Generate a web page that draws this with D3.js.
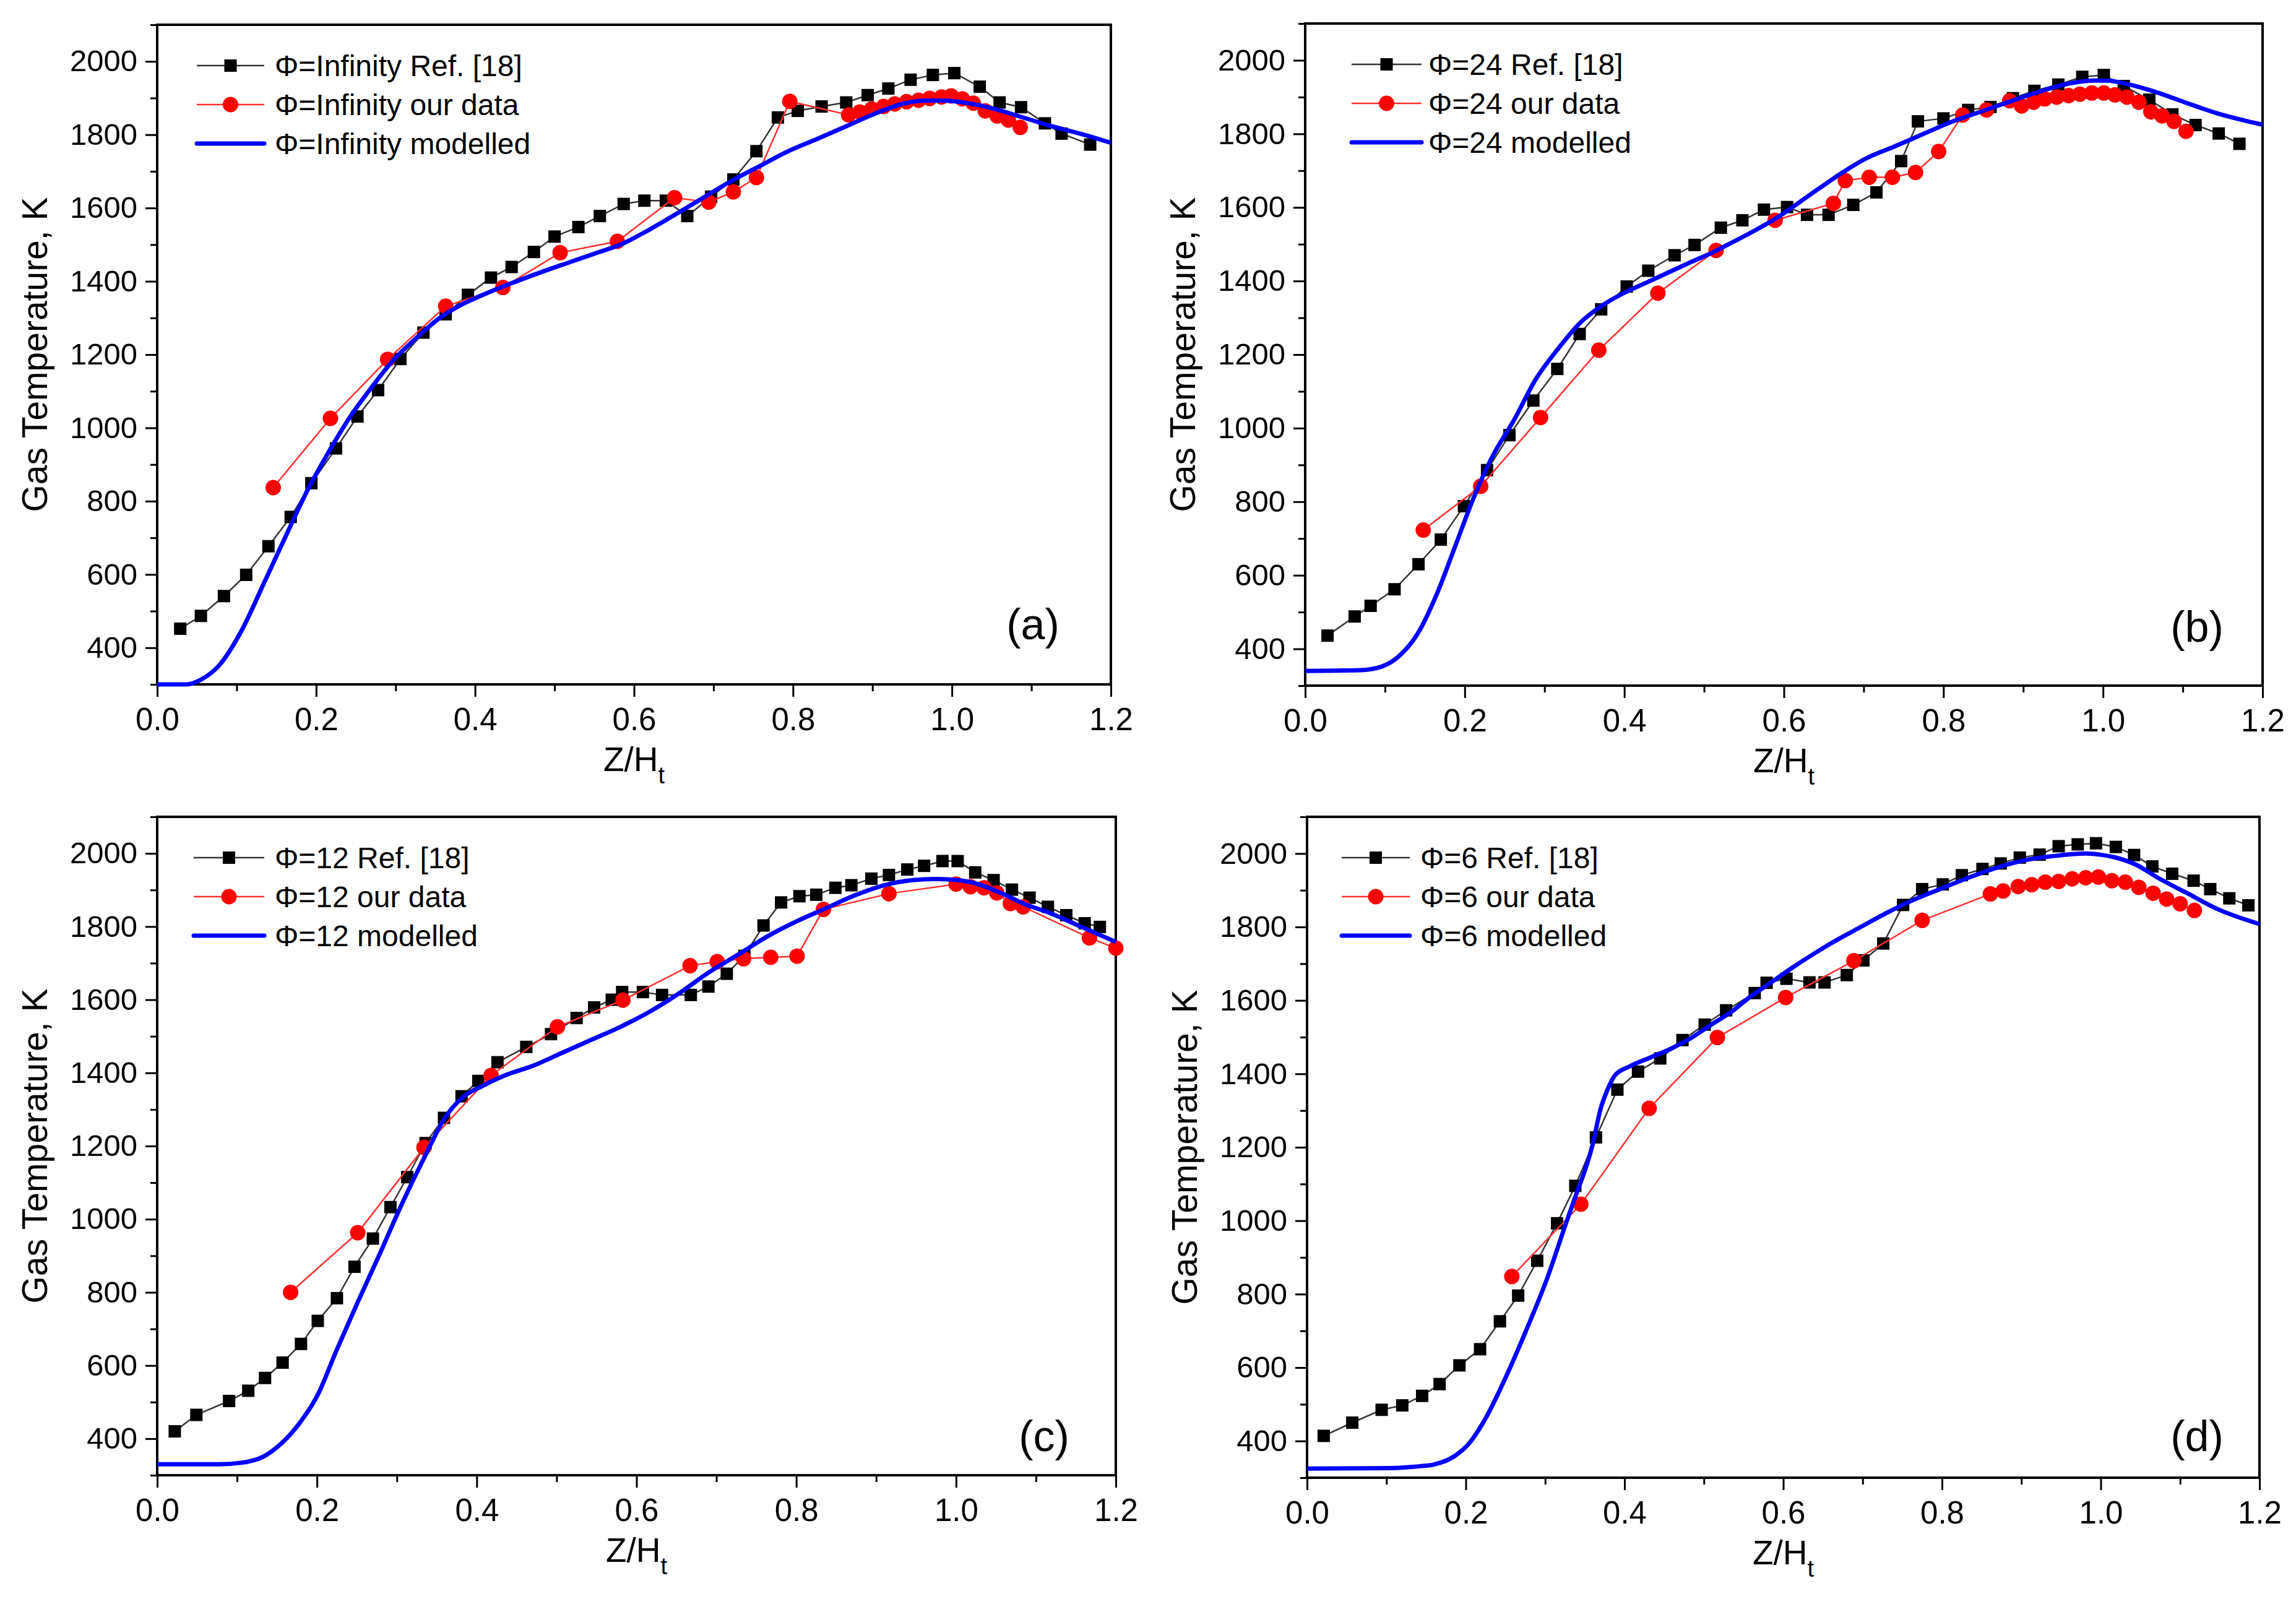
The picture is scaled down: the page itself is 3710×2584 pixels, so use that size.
<!DOCTYPE html>
<html><head><meta charset="utf-8">
<script src="https://cdn.jsdelivr.net/npm/d3@7"></script>
<style>
body{margin:0;background:#fff}
svg{display:block;background:#fff}
text{font-family:"Liberation Sans",Arial,sans-serif;fill:#000}
</style>
</head><body>
<svg id="chart" width="3710" height="2584"></svg>
<script>
// ---------- shared axis data ----------
const xTicks = [0, 0.2, 0.4, 0.6, 0.8, 1.0, 1.2];
const xMinor = [0.1, 0.3, 0.5, 0.7, 0.9, 1.1];
const yTicks = [400, 600, 800, 1000, 1200, 1400, 1600, 1800, 2000];
const yMinor = [300, 500, 700, 900, 1100, 1300, 1500, 1700, 1900, 2100];
const xDomain = [0, 1.2];
const yDomain = [300, 2100];
const yTitle = "Gas Temperature, K";

// ---------- panel (a): Φ = Infinity ----------
const aRefX = [0.029,0.055,0.084,0.112,0.140,0.168,0.194,0.225,0.252,0.278,0.306,0.335,0.363,0.391,0.420,0.446,0.474,0.500,0.530,0.557,0.587,0.613,0.640,0.667,0.697,0.725,0.754,0.781,0.806,0.836,0.867,0.894,0.920,0.948,0.976,1.003,1.035,1.060,1.087,1.117,1.138,1.174];
const aRefY = [452,487,541,599,677,757,849,944,1031,1103,1188,1260,1310,1363,1410,1439,1480,1522,1548,1578,1611,1620,1620,1578,1631,1678,1755,1847,1865,1877,1888,1908,1926,1950,1963,1968,1931,1888,1875,1831,1803,1773];
const aOurX = [0.146,0.218,0.290,0.363,0.435,0.507,0.579,0.651,0.694,0.725,0.754,0.796,0.870,0.884,0.899,0.914,0.928,0.943,0.958,0.972,0.987,0.999,1.013,1.027,1.042,1.057,1.071,1.086];
const aOurY = [837,1026,1187,1332,1383,1478,1509,1628,1616,1644,1683,1891,1854,1862,1870,1877,1884,1890,1894,1899,1903,1906,1898,1886,1865,1851,1840,1820];
const aModX = [0,0.037,0.055,0.078,0.106,0.133,0.161,0.188,0.216,0.243,0.271,0.298,0.326,0.353,0.381,0.409,0.445,0.482,0.519,0.555,0.583,0.611,0.647,0.684,0.721,0.757,0.794,0.831,0.868,0.904,0.941,0.969,0.987,1.014,1.051,1.088,1.124,1.161,1.2];
const aModY = [300,300,313,352,446,570,701,825,935,1031,1114,1187,1245,1296,1334,1362,1394,1424,1452,1479,1500,1531,1576,1624,1672,1713,1755,1789,1824,1858,1886,1893,1893,1888,1872,1848,1824,1803,1778];

// ---------- panel (b): Φ = 24 ----------
const bRefX = [0.028,0.062,0.082,0.112,0.142,0.170,0.199,0.228,0.256,0.286,0.316,0.344,0.371,0.403,0.430,0.463,0.488,0.521,0.548,0.575,0.604,0.629,0.656,0.687,0.716,0.747,0.768,0.800,0.831,0.859,0.887,0.914,0.944,0.974,1.001,1.026,1.058,1.087,1.116,1.145,1.171];
const bRefY = [436,488,517,562,630,697,788,886,981,1075,1161,1256,1323,1385,1428,1470,1498,1545,1565,1594,1601,1580,1580,1607,1641,1726,1834,1842,1865,1873,1897,1917,1934,1955,1960,1930,1893,1853,1824,1801,1773];
const bOurX = [0.148,0.220,0.295,0.368,0.442,0.515,0.589,0.662,0.677,0.707,0.736,0.765,0.794,0.824,0.854,0.883,0.898,0.913,0.927,0.942,0.957,0.971,0.986,1.001,1.015,1.030,1.045,1.060,1.074,1.089,1.104];
const bOurY = [723,842,1029,1212,1367,1483,1565,1611,1673,1682,1682,1695,1752,1851,1865,1890,1876,1886,1895,1900,1904,1908,1911,1911,1906,1900,1886,1860,1849,1834,1807];
const bModX = [0,0.069,0.096,0.119,0.142,0.165,0.188,0.211,0.234,0.262,0.289,0.317,0.344,0.372,0.399,0.427,0.454,0.482,0.510,0.537,0.565,0.592,0.620,0.647,0.675,0.702,0.739,0.776,0.813,0.849,0.886,0.923,0.960,0.987,1.005,1.033,1.070,1.106,1.143,1.180,1.2];
const bModY = [340,342,352,383,445,549,679,810,920,1023,1133,1216,1285,1333,1367,1395,1422,1450,1477,1507,1539,1573,1615,1656,1697,1732,1766,1801,1835,1862,1890,1917,1938,1945,1945,1934,1911,1883,1856,1835,1825];

// ---------- panel (c): Φ = 12 ----------
const cRefX = [0.022,0.049,0.090,0.114,0.135,0.157,0.180,0.201,0.225,0.247,0.270,0.292,0.313,0.336,0.359,0.381,0.402,0.426,0.462,0.493,0.525,0.547,0.569,0.582,0.608,0.632,0.668,0.690,0.713,0.735,0.759,0.781,0.804,0.825,0.849,0.869,0.894,0.916,0.939,0.960,0.983,1.002,1.024,1.047,1.070,1.092,1.115,1.138,1.161,1.180];
const cRefY = [420,465,503,531,566,608,659,722,784,870,947,1033,1115,1208,1277,1336,1378,1429,1471,1506,1550,1579,1600,1621,1621,1613,1613,1636,1671,1720,1803,1866,1883,1887,1906,1913,1931,1941,1956,1966,1979,1979,1948,1927,1901,1879,1854,1831,1809,1799];
const cOurX = [0.167,0.251,0.334,0.418,0.501,0.583,0.667,0.701,0.734,0.768,0.801,0.834,0.916,1.000,1.018,1.035,1.051,1.068,1.084,1.167,1.2];
const cOurY = [800,963,1196,1393,1526,1599,1693,1704,1712,1716,1719,1847,1890,1916,1909,1906,1892,1863,1854,1769,1741];
const cModX = [0,0.078,0.105,0.133,0.155,0.178,0.201,0.224,0.251,0.279,0.306,0.334,0.361,0.384,0.407,0.434,0.471,0.507,0.544,0.580,0.617,0.653,0.690,0.727,0.763,0.800,0.836,0.873,0.910,0.946,0.973,1.001,1.028,1.056,1.083,1.120,1.156,1.2];
const cModY = [330,330,334,351,386,442,520,639,773,907,1040,1167,1280,1336,1364,1392,1420,1455,1491,1526,1568,1617,1674,1723,1772,1814,1849,1885,1913,1927,1930,1927,1916,1892,1864,1835,1800,1758];

// ---------- panel (d): Φ = 6 ----------
const dRefX = [0.021,0.057,0.094,0.120,0.145,0.167,0.192,0.218,0.243,0.266,0.290,0.315,0.338,0.364,0.391,0.417,0.445,0.473,0.501,0.528,0.564,0.579,0.604,0.633,0.652,0.680,0.701,0.726,0.751,0.775,0.801,0.825,0.851,0.874,0.898,0.923,0.947,0.971,0.994,1.019,1.042,1.065,1.090,1.117,1.138,1.162,1.186];
const dRefY = [414,450,485,497,523,555,606,650,726,796,891,993,1095,1227,1357,1406,1442,1492,1534,1573,1620,1648,1659,1649,1649,1669,1709,1755,1860,1903,1916,1941,1958,1973,1989,1997,2020,2025,2028,2018,1996,1965,1945,1926,1903,1878,1859];
const dOurX = [0.258,0.345,0.431,0.517,0.603,0.689,0.775,0.861,0.877,0.896,0.913,0.930,0.947,0.964,0.981,0.997,1.014,1.031,1.048,1.066,1.083,1.100,1.118];
const dOurY = [848,1045,1306,1499,1608,1708,1818,1890,1898,1910,1915,1922,1924,1931,1934,1936,1926,1922,1908,1892,1876,1863,1845];
const dModX = [0,0.104,0.141,0.160,0.186,0.204,0.2245,0.250,0.276,0.302,0.328,0.336,0.360,0.370,0.378,0.388,0.406,0.432,0.458,0.484,0.510,0.536,0.556,0.584,0.612,0.640,0.667,0.695,0.722,0.759,0.796,0.833,0.870,0.907,0.944,0.981,0.999,1.017,1.045,1.072,1.109,1.146,1.2];
const dModY = [325,326,331,336,359,393,460,572,701,840,1004,1053,1209,1306,1354,1396,1420,1444,1468,1498,1535,1571,1606,1648,1690,1729,1764,1797,1829,1869,1902,1934,1962,1983,1994,2000,1997,1990,1969,1934,1892,1850,1808];

// ---------- series labels ----------
const phiLabels = ["Infinity", "24", "12", "6"];
const panelTags = ["(a)", "(b)", "(c)", "(d)"];

// ---------- layout (positions only) ----------
const layout = [
  {box:[254, 40, 1795, 1106], leg:[64, 173, 190], tag:[126, 98]},
  {box:[2109, 38, 3656, 1108], leg:[75, 188, 199], tag:[106, 96]},
  {box:[254, 1320, 1803, 2384], leg:[59, 173, 190], tag:[116, 64]},
  {box:[2112, 1320, 3651, 2388], leg:[56, 166, 183], tag:[101, 68]}
];

const series = [
  {rx:aRefX, ry:aRefY, ox:aOurX, oy:aOurY, mx:aModX, my:aModY},
  {rx:bRefX, ry:bRefY, ox:bOurX, oy:bOurY, mx:bModX, my:bModY},
  {rx:cRefX, ry:cRefY, ox:cOurX, oy:cOurY, mx:cModX, my:cModY},
  {rx:dRefX, ry:dRefY, ox:dOurX, oy:dOurY, mx:dModX, my:dModY}
];

const svg = d3.select("#chart");
svg.append("rect").attr("width", 3710).attr("height", 2584).attr("fill", "#fff");

const SQ = 20, CR = 12.5;
const tickFont = 49, legFont = 48;

series.forEach((s, i) => {
  const [L, T, R, B] = layout[i].box;
  const x = d3.scaleLinear().domain(xDomain).range([L, R]);
  const y = d3.scaleLinear().domain(yDomain).range([B, T]);
  const g = svg.append("g");

  // minor ticks
  g.append("g").attr("transform", `translate(0,${B})`)
    .call(d3.axisBottom(x).tickValues(xMinor).tickSize(11).tickFormat("").tickSizeOuter(0))
    .call(a => a.select(".domain").remove())
    .selectAll("line").attr("stroke", "#000").attr("stroke-width", 3);
  g.append("g").attr("transform", `translate(${L},0)`)
    .call(d3.axisLeft(y).tickValues(yMinor).tickSize(11).tickFormat("").tickSizeOuter(0))
    .call(a => a.select(".domain").remove())
    .selectAll("line").attr("stroke", "#000").attr("stroke-width", 3);

  // major ticks + labels
  const xa = g.append("g").attr("transform", `translate(0,${B})`)
    .call(d3.axisBottom(x).tickValues(xTicks).tickSize(20).tickPadding(18).tickFormat(d3.format(".1f")).tickSizeOuter(0));
  xa.select(".domain").remove();
  xa.selectAll("line").attr("stroke", "#000").attr("stroke-width", 3);
  xa.selectAll("text").attr("font-size", tickFont + 2).attr("fill", "#000");

  const ya = g.append("g").attr("transform", `translate(${L},0)`)
    .call(d3.axisLeft(y).tickValues(yTicks).tickSize(19).tickPadding(13).tickFormat(d3.format("d")).tickSizeOuter(0));
  ya.select(".domain").remove();
  ya.selectAll("line").attr("stroke", "#000").attr("stroke-width", 3);
  ya.selectAll("text").attr("font-size", tickFont).attr("fill", "#000");

  // frame
  g.append("rect").attr("x", L).attr("y", T).attr("width", R - L).attr("height", B - T)
    .attr("fill", "none").attr("stroke", "#000").attr("stroke-width", 4);

  // axis titles
  g.append("text")
    .attr("transform", `translate(${L - 178},${(T + B) / 2}) rotate(-90)`)
    .attr("text-anchor", "middle").attr("font-size", 57).text(yTitle);
  const xt = g.append("text").attr("x", (L + R) / 2).attr("y", B + 140)
    .attr("text-anchor", "middle").attr("font-size", 55);
  xt.append("tspan").text("Z/H");
  xt.append("tspan").attr("font-size", 38).attr("dy", 20).text("t");

  const lineFn = d3.line().x(d => x(d[0])).y(d => y(d[1]));
  const refPts = s.rx.map((v, k) => [v, s.ry[k]]);
  const ourPts = s.ox.map((v, k) => [v, s.oy[k]]);
  const modPts = s.mx.map((v, k) => [v, s.my[k]]);

  // reference (black squares)
  g.append("path").attr("d", lineFn(refPts)).attr("fill", "none")
    .attr("stroke", "#333").attr("stroke-width", 2.5);
  g.selectAll(".sq").data(refPts).enter().append("rect")
    .attr("x", d => x(d[0]) - SQ / 2).attr("y", d => y(d[1]) - SQ / 2)
    .attr("width", SQ).attr("height", SQ).attr("fill", "#000");

  // our data (red circles)
  g.append("path").attr("d", lineFn(ourPts)).attr("fill", "none")
    .attr("stroke", "#ff3030").attr("stroke-width", 2.5);
  g.selectAll(".ci").data(ourPts).enter().append("circle")
    .attr("cx", d => x(d[0])).attr("cy", d => y(d[1])).attr("r", CR).attr("fill", "#ff0000");

  // modelled (blue)
  g.append("path").attr("d", d3.line().curve(d3.curveMonotoneX).x(d => x(d[0])).y(d => y(d[1]))(modPts))
    .attr("fill", "none").attr("stroke", "#0000ff").attr("stroke-width", 7).attr("stroke-linejoin", "round");

  // legend
  const [lx0, lx1, ltx] = layout[i].leg;
  const rows = [T + 66, T + 129, T + 192];
  const phi = phiLabels[i];
  const legTexts = [`\u03A6=${phi} Ref. [18]`, `\u03A6=${phi} our data`, `\u03A6=${phi} modelled`];
  const mx = L + (lx0 + lx1) / 2;
  g.append("line").attr("x1", L + lx0).attr("x2", L + lx1).attr("y1", rows[0]).attr("y2", rows[0])
    .attr("stroke", "#333").attr("stroke-width", 2.5);
  g.append("rect").attr("x", mx - SQ / 2).attr("y", rows[0] - SQ / 2).attr("width", SQ).attr("height", SQ).attr("fill", "#000");
  g.append("line").attr("x1", L + lx0).attr("x2", L + lx1).attr("y1", rows[1]).attr("y2", rows[1])
    .attr("stroke", "#ff3030").attr("stroke-width", 2.5);
  g.append("circle").attr("cx", mx).attr("cy", rows[1]).attr("r", CR).attr("fill", "#ff0000");
  g.append("line").attr("x1", L + lx0).attr("x2", L + lx1).attr("y1", rows[2]).attr("y2", rows[2])
    .attr("stroke", "#0000ff").attr("stroke-width", 7).attr("stroke-linecap", "round");
  legTexts.forEach((t, k) => {
    g.append("text").attr("x", L + ltx).attr("y", rows[k]).attr("dy", "0.36em")
      .attr("font-size", legFont).text(t);
  });

  // panel tag
  const [tdx, tdy] = layout[i].tag;
  g.append("text").attr("x", R - tdx).attr("y", B - tdy).attr("dy", "0.36em")
    .attr("text-anchor", "middle").attr("font-size", 70)
    .attr("font-family", "Lato, 'Open Sans', sans-serif").text(panelTags[i]);
});
</script>
</body></html>
